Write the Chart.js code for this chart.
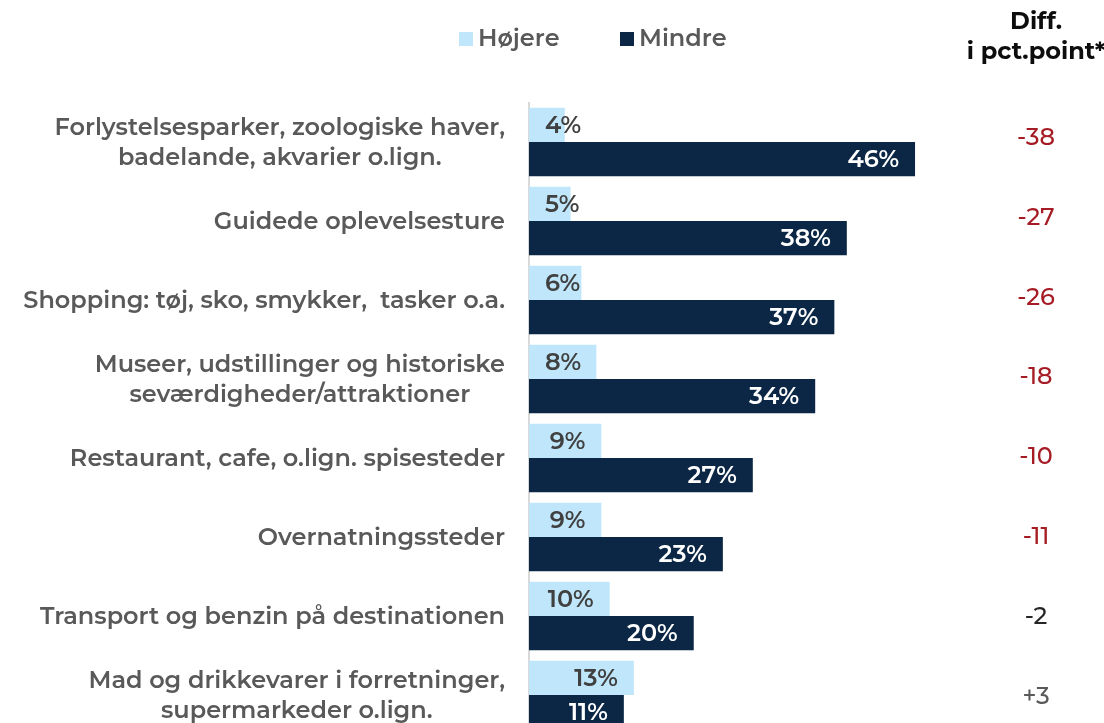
<!DOCTYPE html>
<html>
<head>
<meta charset="utf-8">
<script src="https://cdn.jsdelivr.net/npm/chart.js@4"></script>
<style>
    html, body { margin: 0; padding: 0; background: #fff; overflow: hidden; }
</style>
</head>
<body>
<canvas id="diffChart" width="1104" height="745"></canvas>
<script>
const categories = [
    ["Forlystelsesparker, zoologiske haver,", "badelande, akvarier o.lign."],
    ["Guidede oplevelsesture"],
    ["Shopping: tøj, sko, smykker,  tasker o.a."],
    ["Museer, udstillinger og historiske", "seværdigheder/attraktioner"],
    ["Restaurant, cafe, o.lign. spisesteder"],
    ["Overnatningssteder"],
    ["Transport og benzin på destinationen"],
    ["Mad og drikkevarer i forretninger,", "supermarkeder o.lign."]
];
const hoejere = [4.3, 5.0, 6.3, 8.1, 8.7, 8.7, 9.7, 12.6];
const mindre = [46.4, 38.2, 36.7, 34.4, 26.9, 23.3, 19.8, 11.4];
const diffValues = ["-38", "-27", "-26", "-18", "-10", "-11", "-2", "+3"];
const diffColors = ["#A61C24", "#A61C24", "#A61C24", "#A61C24", "#A61C24", "#A61C24", "#262626", "#595959"];

const FONT = "Montserrat, 'Open Sans', sans-serif";

// Category labels, labels inside the bar ends, legend and the diff column
const extrasPlugin = {
    id: 'extras',
    afterDatasetsDraw(chart) {
        const ctx = chart.ctx;
        const area = chart.chartArea;
        const yScale = chart.scales.y;
        ctx.save();
        ctx.textBaseline = 'middle';

        // category labels: block right aligned, lines centred to each other
        ctx.font = "600 24px " + FONT;
        ctx.fillStyle = '#595959';
        ctx.textAlign = 'center';
        chart.data.labels.forEach((lines, i) => {
            const widest = Math.max(...lines.map(l => ctx.measureText(l).width));
            const cx = area.left - 24 - widest / 2;
            const cy = yScale.getPixelForValue(i);
            lines.forEach((l, j) => {
                ctx.fillText(l, cx, cy + 1 + (j - (lines.length - 1) / 2) * 30);
            });
        });

        // value labels
        chart.data.datasets.forEach((ds, di) => {
            const meta = chart.getDatasetMeta(di);
            meta.data.forEach((bar, i) => {
                const text = Math.round(ds.data[i]) + '%';
                const w = ctx.measureText(text).width;
                let right = bar.x - 16;
                if (right - w < area.left + 16) right = area.left + 16 + w;
                ctx.fillStyle = di === 0 ? '#404040' : '#ffffff';
                ctx.textAlign = 'right';
                ctx.fillText(text, right, bar.y + 1);
            });
        });

        // legend
        const items = [
            { label: chart.data.datasets[0].label, color: chart.data.datasets[0].backgroundColor, x: 459 },
            { label: chart.data.datasets[1].label, color: chart.data.datasets[1].backgroundColor, x: 620 }
        ];
        ctx.textAlign = 'left';
        items.forEach(it => {
            ctx.fillStyle = it.color;
            ctx.fillRect(it.x, 32, 14, 14);
            ctx.fillStyle = '#595959';
            ctx.fillText(it.label, it.x + 19, 39);
        });

        // diff column
        ctx.textAlign = 'center';
        ctx.font = "bold 24px " + FONT;
        ctx.fillStyle = '#0d0d0d';
        ctx.fillText("Diff.", 1036, 22);
        ctx.fillText("i pct.point*", 1036, 52);
        ctx.font = "500 24px " + FONT;
        diffValues.forEach((v, i) => {
            ctx.fillStyle = diffColors[i];
            ctx.fillText(v, 1036, yScale.getPixelForValue(i) - 4 + i * 0.8);
        });
        ctx.restore();
    }
};

document.addEventListener('DOMContentLoaded', function() {
    new Chart(document.getElementById('diffChart'), {
        type: 'bar',
        data: {
            labels: categories,
            datasets: [
                { label: "Højere", data: hoejere, backgroundColor: "#BFE6FB" },
                { label: "Mindre", data: mindre, backgroundColor: "#0B2745" }
            ]
        },
        options: {
            indexAxis: 'y',
            responsive: false,
            animation: false,
            layout: { padding: { top: 102.5, bottom: 10.5, left: 0, right: 159 } },
            datasets: { bar: { categoryPercentage: 0.87, barPercentage: 1.0 } },
            scales: {
                x: {
                    display: false,
                    min: 0,
                    max: 50
                },
                y: {
                    afterFit(scale) {
                        scale.width = 529;
                        scale.paddingTop = 0;
                        scale.paddingBottom = 0;
                    },
                    grid: { display: false, drawTicks: false },
                    border: { display: true, color: '#D9D9D9', width: 2 },
                    ticks: { display: false }
                }
            },
            plugins: {
                legend: { display: false },
                tooltip: { enabled: false }
            }
        },
        plugins: [extrasPlugin]
    });
});
</script>
</body>
</html>
